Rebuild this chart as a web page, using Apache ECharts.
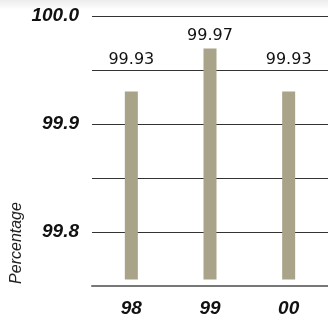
<!DOCTYPE html>
<html>
<head>
<meta charset="utf-8">
<script src="https://cdn.jsdelivr.net/npm/echarts@6/dist/echarts.min.js"></script>
<style>
  html, body { margin: 0; padding: 0; background: #ffffff; }
  #chart { width: 328px; height: 321px; }
</style>
</head>
<body>
<div id="chart"></div>
<script>
// Years and availability percentages
const years = ['98', '99', '00'];
const percentages = [99.93, 99.97, 99.93];
// Bars rise from this level rather than from the axis floor
const barBase = 99.756;
// Value-axis range and step
const axisMin = 99.75;
const axisMax = 100.0;
const axisStep = 0.05;
// Values shown as tick labels
const labelledTicks = [99.8, 99.9, 100.0];
// Gap between each bar top and its value label
const labelGaps = [24, 5, 24];

const chart = echarts.init(document.getElementById('chart'), null, { renderer: 'canvas' });

const option = {
  backgroundColor: '#ffffff',
  animation: false,
  grid: { left: 92, top: 16, width: 240, height: 270 },
  graphic: [
    {
      type: 'rect',
      left: 0, top: 0,
      shape: { width: 328, height: 10 },
      style: {
        fill: new echarts.graphic.LinearGradient(0, 0, 0, 1, [
          { offset: 0, color: '#ececec' },
          { offset: 1, color: '#ffffff' }
        ])
      },
      z: -1
    },
    {
      type: 'text',
      x: 17, y: 243,
      rotation: Math.PI / 2,
      style: {
        text: 'Percentage',
        font: 'italic 16px "Liberation Sans", Arial, sans-serif',
        fill: '#222222',
        align: 'center',
        verticalAlign: 'middle'
      }
    }
  ],
  xAxis: {
    type: 'category',
    data: years,
    axisLine: { show: true, lineStyle: { color: '#777777', width: 2 } },
    axisTick: { show: false },
    axisLabel: {
      margin: 13,
      color: '#111111',
      fontFamily: '"Liberation Sans", Arial, sans-serif',
      fontStyle: 'italic',
      fontWeight: 'bold',
      fontSize: 19
    }
  },
  yAxis: {
    type: 'value',
    min: axisMin,
    max: axisMax,
    interval: axisStep,
    axisLine: { show: false },
    axisTick: { show: false },
    splitLine: { show: true, lineStyle: { color: '#333333', width: 1 } },
    axisLabel: {
      margin: 13,
      color: '#111111',
      fontFamily: '"Liberation Sans", Arial, sans-serif',
      fontStyle: 'italic',
      fontWeight: 'bold',
      fontSize: 19,
      formatter: function (v) {
        const hit = labelledTicks.some(function (t) { return Math.abs(t - v) < 1e-6; });
        return hit ? v.toFixed(1) : '';
      }
    }
  },
  series: [
    {
      type: 'bar',
      stack: 'avail',
      barWidth: 13,
      silent: true,
      itemStyle: { color: 'transparent' },
      data: years.map(function () { return barBase; })
    },
    {
      type: 'bar',
      stack: 'avail',
      barWidth: 13,
      itemStyle: { color: '#a8a389' },
      data: percentages.map(function (v, i) {
        return {
          value: v - barBase,
          label: {
            show: true,
            position: 'top',
            distance: labelGaps[i],
            formatter: function () { return v.toFixed(2); },
            color: '#111111',
            fontFamily: '"DejaVu Sans", sans-serif',
            fontSize: 16
          }
        };
      })
    }
  ]
};

chart.setOption(option);
</script>
</body>
</html>
